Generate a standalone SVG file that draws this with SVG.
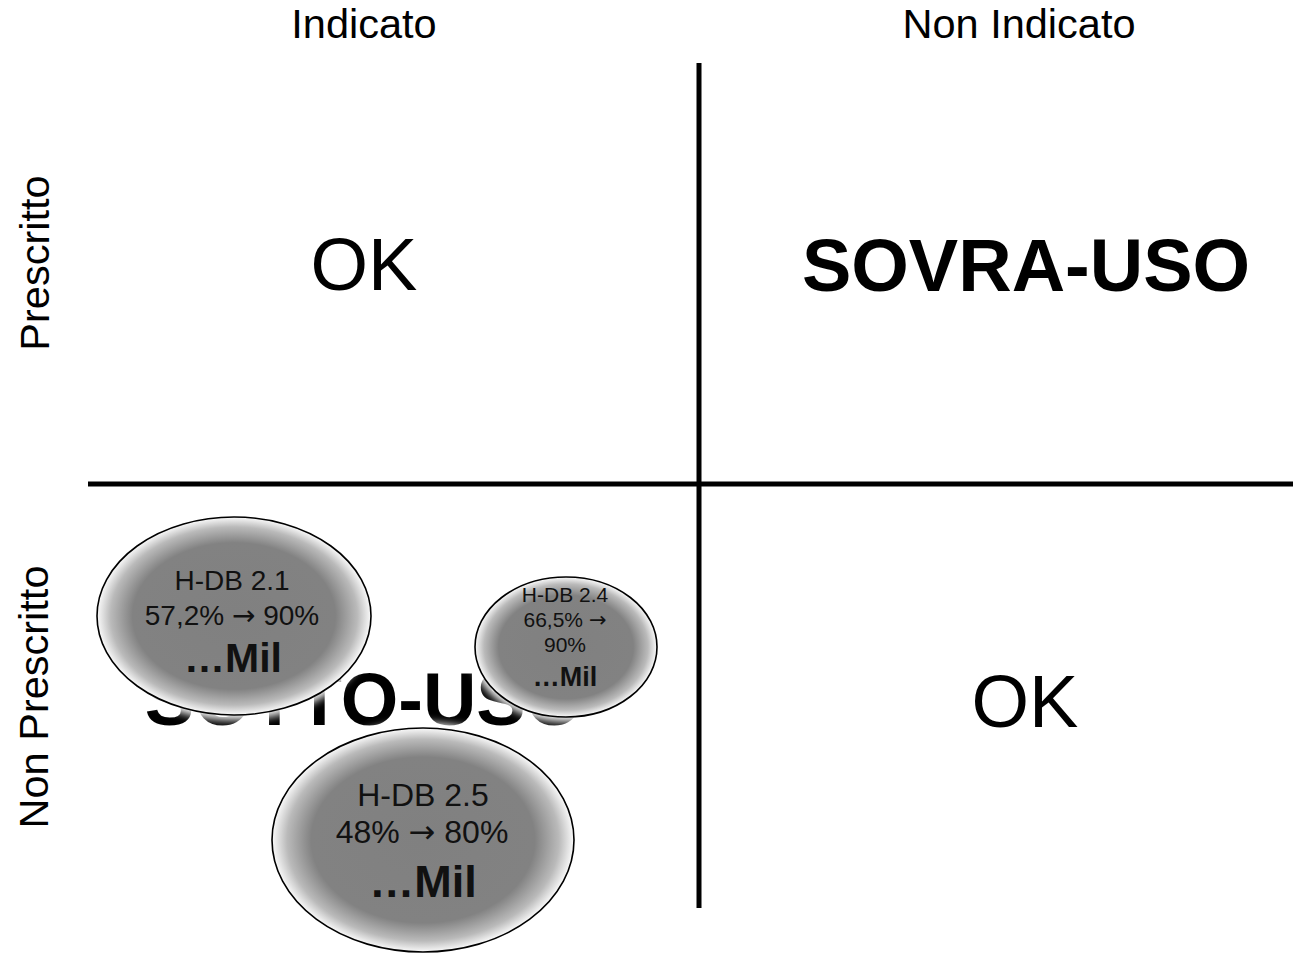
<svg xmlns="http://www.w3.org/2000/svg" width="1293" height="955" viewBox="0 0 1293 955">
  <defs>
    <style>
      .lbl { font-family: "Liberation Sans", Arial, sans-serif; fill: #000; }
      .axis { font-size: 41.5px; }
      .big { font-size: 74px; }
      .b { font-weight: bold; }
      .mid { text-anchor: middle; }
      .arr { font-family: "DejaVu Sans", sans-serif; }
      .grid { stroke: #000; stroke-width: 5; }
      .bub { fill: url(#bubFill); stroke: #000; stroke-width: 1.6; }
      .halo { fill: #fff; filter: url(#soft); }
      .in { fill: #111; }
    </style>
    <radialGradient id="bubFill" cx="0.5" cy="0.5" r="0.5">
      <stop offset="0" stop-color="#808080"/>
      <stop offset="0.74" stop-color="#828282"/>
      <stop offset="0.9" stop-color="#bababa"/>
      <stop offset="1" stop-color="#fafafa"/>
    </radialGradient>
    <filter id="soft" x="-20%" y="-20%" width="140%" height="140%">
      <feGaussianBlur stdDeviation="4"/>
    </filter>
  </defs>

  <rect width="1293" height="955" fill="#fff"/>

  <!-- axis headings -->
  <g id="axis-labels" class="lbl axis">
    <text class="mid" x="364" y="38">Indicato</text>
    <text class="mid" x="1019" y="38">Non Indicato</text>
    <text class="mid" transform="translate(49,263) rotate(-90)">Prescritto</text>
    <text class="mid" transform="translate(48,697) rotate(-90)">Non Prescritto</text>
  </g>

  <!-- quadrant dividers -->
  <g id="connectors">
    <line class="grid" x1="699" y1="63" x2="699" y2="908"/>
    <line class="grid" x1="88" y1="484" x2="1293" y2="484"/>
  </g>

  <!-- quadrant captions -->
  <g id="q-ok-top" class="lbl big"><text class="mid" x="364" y="290">OK</text></g>
  <g id="q-sovra" class="lbl big b"><text class="mid" x="1026" y="291">SOVRA-USO</text></g>
  <g id="q-ok-bottom" class="lbl big"><text class="mid" x="1025" y="727">OK</text></g>
  <g id="q-sotto" class="lbl big b"><text class="mid" x="364" y="725">SOTTO-USO</text></g>

  <!-- indicator bubbles -->
  <g id="bubble-hdb21">
    <ellipse class="halo" cx="234" cy="616" rx="142" ry="104"/>
    <ellipse class="bub" cx="234" cy="616" rx="137" ry="99"/>
    <g class="lbl in mid">
      <text x="232" y="590" font-size="28">H-DB 2.1</text>
      <text x="232" y="625" font-size="28">57,2% <tspan class="arr">→</tspan> 90%</text>
      <text x="233" y="672" font-size="41" class="b">…Mil</text>
    </g>
  </g>

  <g id="bubble-hdb24">
    <ellipse class="halo" cx="566" cy="647" rx="96" ry="75"/>
    <ellipse class="bub" cx="566" cy="647" rx="91" ry="70"/>
    <g class="lbl in mid">
      <text x="565" y="602" font-size="21">H-DB 2.4</text>
      <text x="565" y="627" font-size="21">66,5% <tspan class="arr">→</tspan></text>
      <text x="565" y="652" font-size="21">90%</text>
      <text x="565" y="686" font-size="27" class="b">…Mil</text>
    </g>
  </g>

  <g id="bubble-hdb25">
    <ellipse class="halo" cx="423" cy="840" rx="156" ry="117"/>
    <ellipse class="bub" cx="423" cy="840" rx="151" ry="112"/>
    <g class="lbl in mid">
      <text x="423" y="806" font-size="32">H-DB 2.5</text>
      <text x="422" y="843" font-size="32">48% <tspan class="arr">→</tspan> 80%</text>
      <text x="423" y="897" font-size="45" class="b">…Mil</text>
    </g>
  </g>
</svg>
